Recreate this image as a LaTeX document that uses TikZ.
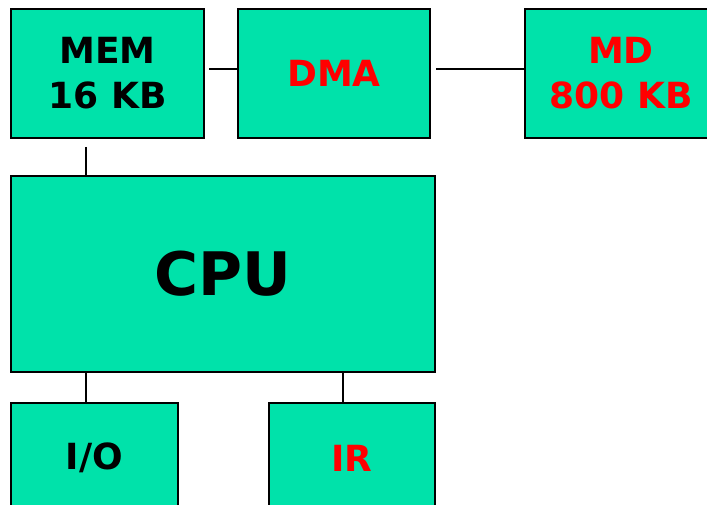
\documentclass[tikz,border=0pt]{standalone}
\usepackage{fontspec}
\setmainfont{DejaVu Sans}
\definecolor{boxfill}{RGB}{0,226,170}
\definecolor{txtred}{RGB}{255,0,0}
\tikzset{
  blk/.style={draw=black, line width=2pt, fill=boxfill, anchor=north west,
    align=center, inner sep=0pt, font=\bfseries\fontsize{36}{45}\selectfont},
  wire/.style={draw=black, line width=2pt},
  redtxt/.style={text=txtred}
}
\begin{document}
\begin{tikzpicture}[x=1pt,y=-1pt]
\clip (0,0) rectangle (707,505);
\fill[white] (0,0) rectangle (707,505);
\node[blk, minimum width=193pt, minimum height=129pt] (mem) at (10,8) {MEM\\16 KB};
\node[blk, redtxt, minimum width=192pt, minimum height=129pt] (dma) at (237,8) {DMA};
\node[blk, redtxt, minimum width=192pt, minimum height=129pt] (md) at (524,8) {MD\\800 KB};
\node[blk, minimum width=424pt, minimum height=196pt, font=\bfseries\fontsize{60}{70}\selectfont] (cpu) at (10,175) {CPU};
\node[blk, minimum width=167pt, minimum height=110pt] (io) at (10,402) {I/O};
\node[blk, redtxt, minimum width=166pt, minimum height=110pt] (ir) at (268,402) {IR};
\draw[wire] ([xshift=4pt,yshift=-61pt]mem.north east) -- ([yshift=-61pt]dma.north west);
\draw[wire] ([xshift=5pt,yshift=-61pt]dma.north east) -- ([yshift=-61pt]md.north west);
\draw[wire] ([xshift=76pt,yshift=-8pt]mem.south west) -- ([xshift=76pt]cpu.north west);
\draw[wire] ([xshift=76pt]cpu.south west) -- ([xshift=76pt]io.north west);
\draw[wire] ([xshift=333pt]cpu.south west) -- ([xshift=75pt]ir.north west);
\end{tikzpicture}
\end{document}
